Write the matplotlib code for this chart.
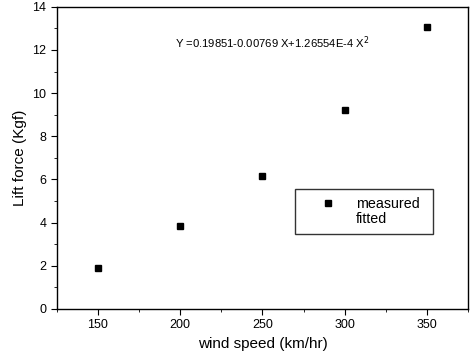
import matplotlib.pyplot as plt
from matplotlib.lines import Line2D
from matplotlib.ticker import MultipleLocator

plt.rcParams['font.family'] = ['Liberation Sans', 'DejaVu Sans']

# measured lift force vs wind speed
wind_speed = [150, 200, 250, 300, 350]
lift_force = [1.88, 3.86, 6.18, 9.22, 13.08]

x_ticks = [150, 200, 250, 300, 350]
y_ticks = [0, 2, 4, 6, 8, 10, 12, 14]

fig = plt.figure(figsize=(4.7, 3.6), dpi=100)
ax = fig.add_axes([0.121, 0.142, 0.875, 0.839])

ax.plot(wind_speed, lift_force, 's', color='black', markersize=4.5, label='measured')

ax.set_xlim(125, 375)
ax.set_ylim(0, 14)
ax.set_xticks(x_ticks)
ax.set_yticks(y_ticks)
ax.xaxis.set_minor_locator(MultipleLocator(25))
ax.yaxis.set_minor_locator(MultipleLocator(1))
ax.tick_params(which='both', direction='out', top=False, right=False, labelsize=9)
ax.tick_params(which='major', length=4)
ax.tick_params(which='minor', length=2)
for s in ax.spines.values():
    s.set_linewidth(1.0)

ax.set_xlabel('wind speed (km/hr)', fontsize=11)
ax.set_ylabel('Lift force (Kgf)', fontsize=11)

ax.text(256, 12.33, r'Y =0.19851-0.00769 X+1.26554E-4 X$^2$', fontsize=8.1,
        ha='center', va='center')

handles = [Line2D([], [], marker='s', color='black', linestyle='none', markersize=4.5),
           Line2D([], [], linestyle='none')]
leg = ax.legend(handles, ['measured', 'fitted'], loc='lower left',
                bbox_to_anchor=(0.579, 0.248, 0.336, 0.156), mode='expand',
                fontsize=10.3, frameon=True, fancybox=False, edgecolor='black',
                handlelength=3.5, handletextpad=0.2, borderpad=0.55, labelspacing=0.1,
                borderaxespad=0)
leg.get_frame().set_linewidth(1.0)

fig.savefig('out.png', dpi=100)
